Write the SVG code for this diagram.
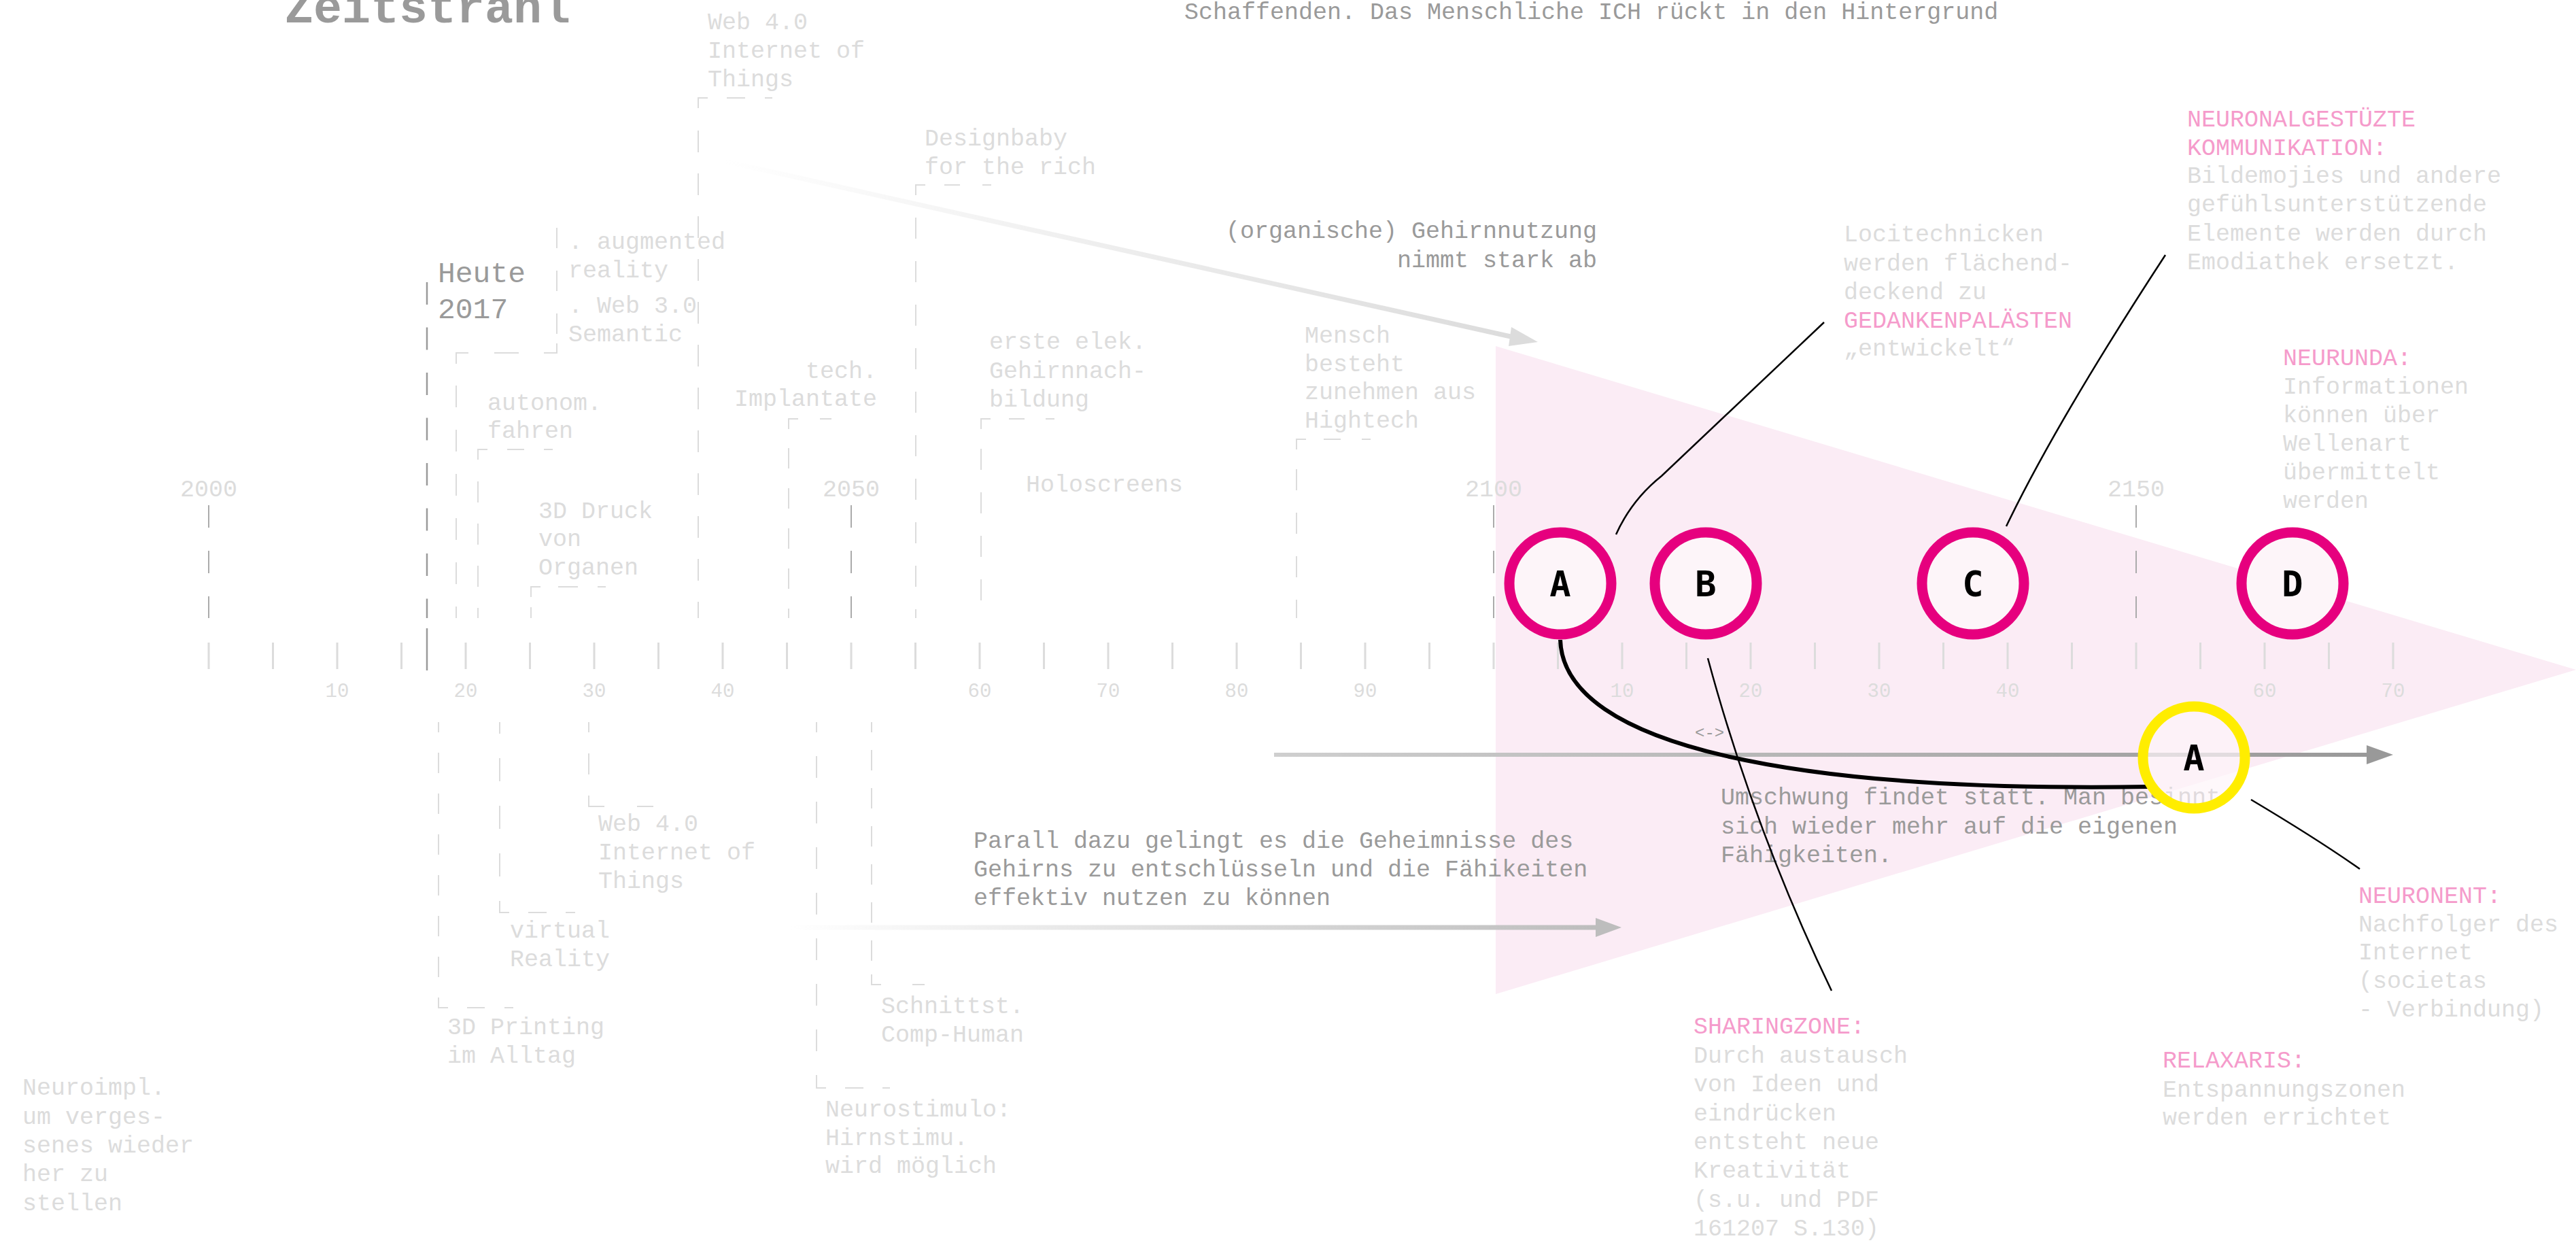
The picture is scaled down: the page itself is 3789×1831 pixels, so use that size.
<svg xmlns="http://www.w3.org/2000/svg" width="3789" height="1831" viewBox="0 0 3789 1831">
<style>
text{font-family:"Liberation Mono","DejaVu Sans Mono",monospace;font-size:35px}
.lt{fill:#dcdcdc}
.md{fill:#9a9a9a}
.pk{fill:#f59bcb}
.yr{fill:#dcdcdc;text-anchor:middle}
.mn{fill:#dcdcdc;font-size:29px;text-anchor:middle}
.dl{stroke:#dcdcdc;stroke-width:2;fill:none}
.tk{stroke:#dcdcdc;stroke-width:3}
.yt{stroke:#ababab;stroke-width:2;stroke-dasharray:33 34}
.con{stroke:#000;stroke-width:2.5;fill:none}
.ring{stroke:#e6007e;stroke-width:15;fill:#fdf5f9}
.let{font-family:"DejaVu Sans Mono","Liberation Mono",monospace;font-weight:bold;font-size:52px;fill:#000;text-anchor:middle}
</style>
<defs>
<linearGradient id="g1" gradientUnits="userSpaceOnUse" x1="1065" y1="237" x2="2221" y2="495"><stop offset="0" stop-color="#ffffff"/><stop offset="1" stop-color="#dcdcdc"/></linearGradient>
<linearGradient id="g2" gradientUnits="userSpaceOnUse" x1="1163" y1="1364" x2="2347" y2="1364"><stop offset="0" stop-color="#ffffff"/><stop offset="1" stop-color="#bdbdbd"/></linearGradient>
<linearGradient id="g3" gradientUnits="userSpaceOnUse" x1="1874" y1="1110" x2="3481" y2="1110"><stop offset="0" stop-color="#cfcfcf"/><stop offset="1" stop-color="#999999"/></linearGradient>
</defs>
<rect width="3789" height="1831" fill="#ffffff"/>
<polygon id="cone" points="2200,509 3789,985 2200,1462" fill="#fbecf5"/>

<g id="axis">
<g id="ticks">
<path class="tk" d="M307,945V984M401.5,945V984M496,945V984M590.5,945V984M685,945V984M779.5,945V984M874,945V984M968.5,945V984M1063,945V984M1157.5,945V984M1252,945V984M1346.5,945V984M1441,945V984M1535.5,945V984M1630,945V984M1724.5,945V984M1819,945V984M1913.5,945V984M2008,945V984M2102.5,945V984M2197,945V984M2291.5,945V984M2386,945V984M2480.5,945V984M2575,945V984M2669.5,945V984M2764,945V984M2858.5,945V984M2953,945V984M3047.5,945V984M3142,945V984M3236.5,945V984M3331,945V984M3425.5,945V984M3520,945V984"/>
</g>
<path class="yt" d="M307,743V909M1252,743V909M2197,743V909M3142,743V909"/>
<text class="yr" x="307" y="730">2000</text>
<text class="yr" x="1252" y="730">2050</text>
<text class="yr" x="2197" y="730">2100</text>
<text class="yr" x="3142" y="730">2150</text>
<text class="mn" x="496" y="1025">10</text>
<text class="mn" x="685" y="1025">20</text>
<text class="mn" x="874" y="1025">30</text>
<text class="mn" x="1063" y="1025">40</text>
<text class="mn" x="1441" y="1025">60</text>
<text class="mn" x="1630" y="1025">70</text>
<text class="mn" x="1819" y="1025">80</text>
<text class="mn" x="2008" y="1025">90</text>
<text class="mn" x="2386" y="1025">10</text>
<text class="mn" x="2575" y="1025">20</text>
<text class="mn" x="2764" y="1025">30</text>
<text class="mn" x="2953" y="1025">40</text>
<text class="mn" x="3331" y="1025">60</text>
<text class="mn" x="3520" y="1025">70</text>
</g>

<g id="heute">
<path d="M628,415V909" stroke="#9a9a9a" stroke-width="2.5" stroke-dasharray="33 33.5"/>
<path d="M628,924V986" stroke="#9a9a9a" stroke-width="2.5"/>
<text class="md" style="font-size:43px" x="644" y="415">Heute</text>
<text class="md" style="font-size:43px" x="644" y="468">2017</text>
</g>

<g id="title">
<text x="419" y="33" style="font-size:70px;font-weight:bold;fill:#9a9a9a">Zeitstrahl</text>
<text class="md" x="1742" y="28">Schaffenden. Das Menschliche ICH rückt in den Hintergrund</text>
</g>

<g id="brackets-top">
<path class="dl" d="M1027,159V144H1041M1069,144H1096M1125,144H1136"/>
<path class="dl" stroke-dasharray="32 31" d="M1027,192V909"/>
<path class="dl" stroke-dasharray="30 33" d="M819,335V505"/>
<path class="dl" d="M819,505V519H800M763,519H727M689,519H671V535"/>
<path class="dl" stroke-dasharray="32 33" d="M671,567V909"/>
<path class="dl" d="M703,676V661H717M746,661H771M800,661H813"/>
<path class="dl" stroke-dasharray="31 31" d="M703,708V909"/>
<path class="dl" d="M781,878V863H795M821,863H850M879,863H891M781,893V909"/>
<path class="dl" d="M1160,631V616H1174M1206,616H1223"/>
<path class="dl" stroke-dasharray="30 29" d="M1160,659V909"/>
<path class="dl" d="M1347,287V272H1361M1389,272H1412M1445,272H1458"/>
<path class="dl" stroke-dasharray="31 33" d="M1347,320V909"/>
<path class="dl" d="M1443,631V616H1457M1484,616H1507M1538,616H1551"/>
<path class="dl" stroke-dasharray="31 33" d="M1443,660V909"/>
<path class="dl" d="M1907,661V646H1921M1947,646H1972M2003,646H2016"/>
<path class="dl" stroke-dasharray="31 33" d="M1907,690V909"/>
</g>

<g id="brackets-bottom">
<path class="dl" stroke-dasharray="30 30" stroke-dashoffset="15" d="M645,1062V1467"/>
<path class="dl" d="M645,1467V1482H659M687,1482H713M742,1482H755"/>
<path class="dl" stroke-dasharray="34 36" stroke-dashoffset="17" d="M735,1062V1325"/>
<path class="dl" d="M735,1325V1342H749M777,1342H804M832,1342H846"/>
<path class="dl" stroke-dasharray="31 31" stroke-dashoffset="16" d="M866,1062V1171"/>
<path class="dl" d="M866,1171V1186H889M937,1186H961"/>
<path class="dl" stroke-dasharray="32 35" stroke-dashoffset="17" d="M1201,1062V1585"/>
<path class="dl" d="M1201,1585V1600H1215M1243,1600H1270M1298,1600H1309"/>
<path class="dl" stroke-dasharray="30 26" stroke-dashoffset="15" d="M1282,1062V1433"/>
<path class="dl" d="M1282,1433V1448H1296M1342,1448H1360"/>
</g>

<g id="n-web40-top"><text class="lt"><tspan x="1041" y="43">Web 4.0</tspan><tspan x="1041" y="85">Internet of</tspan><tspan x="1041" y="127">Things</tspan></text></g>
<g id="n-designbaby"><text class="lt"><tspan x="1360" y="214">Designbaby</tspan><tspan x="1360" y="256">for the rich</tspan></text></g>
<g id="n-augmented"><text class="lt"><tspan x="836" y="366">. augmented</tspan><tspan x="836" y="408">reality</tspan><tspan x="836" y="460">. Web 3.0</tspan><tspan x="836" y="502">Semantic</tspan></text></g>
<g id="n-autonom"><text class="lt"><tspan x="717" y="603">autonom.</tspan><tspan x="717" y="644">fahren</tspan></text></g>
<g id="n-implantate"><text class="lt" text-anchor="end"><tspan x="1290" y="556">tech.</tspan><tspan x="1290" y="597">Implantate</tspan></text></g>
<g id="n-3ddruck"><text class="lt"><tspan x="792" y="762">3D Druck</tspan><tspan x="792" y="803">von</tspan><tspan x="792" y="845">Organen</tspan></text></g>
<g id="n-gehirn"><text class="lt"><tspan x="1455" y="513">erste elek.</tspan><tspan x="1455" y="556">Gehirnnach-</tspan><tspan x="1455" y="598">bildung</tspan></text></g>
<g id="n-holo"><text class="lt" x="1509" y="723">Holoscreens</text></g>
<g id="n-mensch"><text class="lt"><tspan x="1919" y="504">Mensch</tspan><tspan x="1919" y="546">besteht</tspan><tspan x="1919" y="587">zunehmen aus</tspan><tspan x="1919" y="629">Hightech</tspan></text></g>
<g id="n-organisch"><text class="md" text-anchor="end"><tspan x="2349" y="350">(organische) Gehirnnutzung</tspan><tspan x="2349" y="393">nimmt stark ab</tspan></text></g>
<g id="n-loci"><text class="lt"><tspan x="2712" y="355">Locitechnicken</tspan><tspan x="2712" y="398">werden flächend-</tspan><tspan x="2712" y="440">deckend zu</tspan><tspan x="2712" y="482" class="pk">GEDANKENPALÄSTEN</tspan><tspan x="2712" y="523">„entwickelt“</tspan></text></g>
<g id="n-neuronal"><text class="lt"><tspan x="3217" y="186" class="pk">NEURONALGESTÜZTE</tspan><tspan x="3217" y="228" class="pk">KOMMUNIKATION:</tspan><tspan x="3217" y="269">Bildemojies und andere</tspan><tspan x="3217" y="311">gefühlsunterstützende</tspan><tspan x="3217" y="354">Elemente werden durch</tspan><tspan x="3217" y="396">Emodiathek ersetzt.</tspan></text></g>
<g id="n-neurunda"><text class="lt"><tspan x="3358" y="537" class="pk">NEURUNDA:</tspan><tspan x="3358" y="579">Informationen</tspan><tspan x="3358" y="621">können über</tspan><tspan x="3358" y="663">Wellenart</tspan><tspan x="3358" y="705">übermittelt</tspan><tspan x="3358" y="747">werden</tspan></text></g>
<g id="n-neuroimpl"><text class="lt"><tspan x="33" y="1610">Neuroimpl.</tspan><tspan x="33" y="1653">um verges-</tspan><tspan x="33" y="1695">senes wieder</tspan><tspan x="33" y="1737">her zu</tspan><tspan x="33" y="1780">stellen</tspan></text></g>
<g id="n-web40-bottom"><text class="lt"><tspan x="880" y="1222">Web 4.0</tspan><tspan x="880" y="1264">Internet of</tspan><tspan x="880" y="1306">Things</tspan></text></g>
<g id="n-virtual"><text class="lt"><tspan x="750" y="1379">virtual</tspan><tspan x="750" y="1421">Reality</tspan></text></g>
<g id="n-3dprinting"><text class="lt"><tspan x="658" y="1521">3D Printing</tspan><tspan x="658" y="1563">im Alltag</tspan></text></g>
<g id="n-schnittst"><text class="lt"><tspan x="1296" y="1490">Schnittst.</tspan><tspan x="1296" y="1532">Comp-Human</tspan></text></g>
<g id="n-neurostimulo"><text class="lt"><tspan x="1214" y="1642">Neurostimulo:</tspan><tspan x="1214" y="1684">Hirnstimu.</tspan><tspan x="1214" y="1725">wird möglich</tspan></text></g>
<g id="n-parall"><text class="md"><tspan x="1432" y="1247">Parall dazu gelingt es die Geheimnisse des</tspan><tspan x="1432" y="1289">Gehirns zu entschlüsseln und die Fähikeiten</tspan><tspan x="1432" y="1331">effektiv nutzen zu können</tspan></text></g>
<g id="n-umschwung"><text class="md"><tspan x="2531" y="1183">Umschwung findet statt. Man besinnt</tspan><tspan x="2531" y="1226">sich wieder mehr auf die eigenen</tspan><tspan x="2531" y="1268">Fähigkeiten.</tspan></text></g>
<g id="n-sharing"><text class="lt"><tspan x="2491" y="1520" class="pk">SHARINGZONE:</tspan><tspan x="2491" y="1563">Durch austausch</tspan><tspan x="2491" y="1605">von Ideen und</tspan><tspan x="2491" y="1648">eindrücken</tspan><tspan x="2491" y="1690">entsteht neue</tspan><tspan x="2491" y="1732">Kreativität</tspan><tspan x="2491" y="1775">(s.u. und PDF</tspan><tspan x="2491" y="1817">161207 S.130)</tspan></text></g>
<g id="n-relaxaris"><text class="lt"><tspan x="3181" y="1570" class="pk">RELAXARIS:</tspan><tspan x="3181" y="1613">Entspannungszonen</tspan><tspan x="3181" y="1654">werden errichtet</tspan></text></g>
<g id="n-neuronent"><text class="lt"><tspan x="3469" y="1328" class="pk">NEURONENT:</tspan><tspan x="3469" y="1370">Nachfolger des</tspan><tspan x="3469" y="1411">Internet</tspan><tspan x="3469" y="1453">(societas</tspan><tspan x="3469" y="1495">- Verbindung)</tspan></text></g>

<g id="connectors">
<line x1="1065" y1="237" x2="2222" y2="495" stroke="url(#g1)" stroke-width="7"/>
<polygon points="2223,481 2262,503 2219,509" fill="#dcdcdc"/>
<line x1="1163" y1="1364" x2="2348" y2="1364" stroke="url(#g2)" stroke-width="7"/>
<polygon points="2347,1350 2385,1364 2347,1378" fill="#bdbdbd"/>
<line x1="1874" y1="1110" x2="3482" y2="1110" stroke="url(#g3)" stroke-width="6"/>
<polygon points="3481,1096 3520,1110 3481,1124" fill="#999999"/>
<text x="2493" y="1085" style="font-size:24px;fill:#9a9a9a">&lt;-&gt;</text>
<path d="M2295,941 C2300,1100 2650,1165 3160,1157" stroke="#000" stroke-width="6" fill="none"/>
<path class="con" d="M2377,786 Q2400,735 2444,700 L2683,474"/>
<path class="con" d="M2951,774 Q3025,620 3185,375"/>
<path class="con" d="M2512,968 Q2580,1220 2694,1457"/>
<path class="con" d="M3311,1176 Q3410,1235 3471,1278"/>
</g>

<g id="node-A"><circle class="ring" cx="2295" cy="858" r="75"/><text class="let" x="2295" y="877">A</text></g>
<g id="node-B"><circle class="ring" cx="2509" cy="858" r="75"/><text class="let" x="2509" y="877">B</text></g>
<g id="node-C"><circle class="ring" cx="2902" cy="858" r="75"/><text class="let" x="2902" y="877">C</text></g>
<g id="node-D"><circle class="ring" cx="3372" cy="858" r="75"/><text class="let" x="3372" y="877">D</text></g>
<g id="node-A2"><circle cx="3227" cy="1114" r="75" fill="#fdf5f9" fill-opacity="0.7" stroke="#ffed00" stroke-width="15"/><text class="let" x="3227" y="1133">A</text></g>
</svg>
